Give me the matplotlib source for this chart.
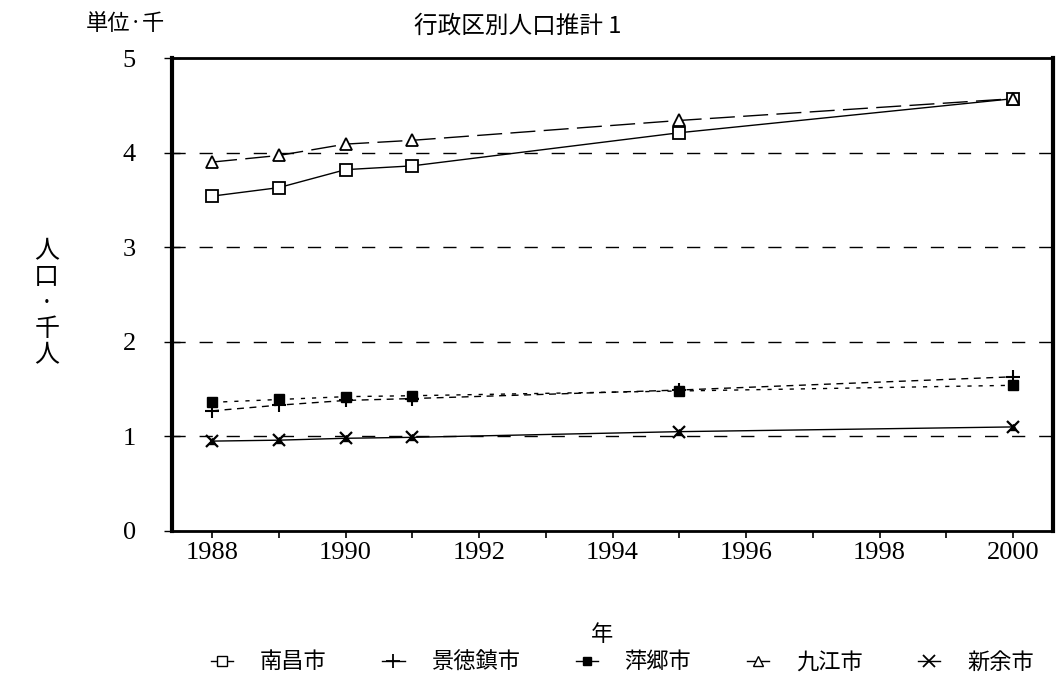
import matplotlib
matplotlib.use("Agg")
import matplotlib.pyplot as plt
from matplotlib.lines import Line2D

JP = ["Noto Sans CJK JP", "DejaVu Sans"]
NUM = "Liberation Serif"

# population estimates by city, thousands
years = [1988, 1989, 1990, 1991, 1995, 2000]
nanchang = [3.54, 3.63, 3.82, 3.86, 4.21, 4.57]
jingdezhen = [1.27, 1.33, 1.38, 1.40, 1.49, 1.63]
pingxiang = [1.36, 1.39, 1.42, 1.43, 1.48, 1.54]
jiujiang = [3.90, 3.97, 4.09, 4.13, 4.34, 4.57]
xinyu = [0.95, 0.96, 0.98, 0.99, 1.05, 1.10]

city_names = ["南昌市", "景徳鎮市", "萍郷市", "九江市", "新余市"]
y_ticks = [0, 1, 2, 3, 4, 5]
x_ticks = [1988, 1990, 1992, 1994, 1996, 1998, 2000]

fig = plt.figure(figsize=(10.64, 6.81), dpi=100)
ax = fig.add_axes([0.1617, 0.2203, 0.828, 0.6945])

# dashed horizontal grid
for yv in y_ticks[1:-1]:
    ax.axhline(yv, color="black", lw=1.0, ls=(0, (9.5, 10)), zorder=1)

ax.plot(years, nanchang, color="black", lw=1.0, marker="s", ms=8,
        mfc="white", mec="black", mew=1.3, zorder=3)
ax.plot(years, jiujiang, color="black", lw=1.0, ls=(0, (18, 6)), marker="^", ms=8,
        mfc="white", mec="black", mew=1.3, zorder=3)
ax.plot(years, jingdezhen, color="black", lw=1.0, ls=(0, (5, 4)), marker="+", ms=10,
        mew=1.5, zorder=3)
ax.plot(years, pingxiang, color="black", lw=1.0, ls=(0, (3, 5)), marker="s", ms=7,
        mfc="black", mec="black", zorder=3)
ax.plot(years, xinyu, color="black", lw=1.0, marker="x", ms=9, mew=1.6, zorder=3)
ax.plot(years, xinyu, ls="none", marker="^", ms=5, mfc="black", mec="black", zorder=3)

ax.set_xlim(1987.4, 2000.6)
ax.set_ylim(0, 5)
ax.set_xticks(x_ticks)
ax.set_xticks(range(1988, 2001), minor=True)
ax.set_yticks(y_ticks)
ax.tick_params(axis="x", which="both", direction="out", length=5, width=1.2, pad=3)
ax.tick_params(axis="y", direction="inout", length=12, width=1.0, pad=20)
for lab in ax.get_xticklabels() + ax.get_yticklabels():
    lab.set_fontfamily(NUM)
    lab.set_fontsize(19)

ax.spines["left"].set_linewidth(3.0)
ax.spines["right"].set_linewidth(3.0)
ax.spines["top"].set_linewidth(2.0)
ax.spines["bottom"].set_linewidth(2.0)

fig.text(0.487, 0.962, "行政区別人口推計 1", ha="center", va="center",
         fontsize=17, family=JP)
fig.text(0.118, 0.965, "単位·千", ha="center", va="center", fontsize=16, family=JP)
fig.text(0.044, 0.555, "人\n口\n·\n千\n人", ha="center", va="center",
         fontsize=18, family=JP, linespacing=1.0)
fig.text(0.566, 0.068, "年", ha="center", va="center", fontsize=16, family=JP)

handles = [
    Line2D([], [], color="black", lw=1.0, marker="s", ms=7, mfc="white", mec="black"),
    Line2D([], [], color="black", lw=1.0, marker="+", ms=10, mew=1.3),
    Line2D([], [], color="black", lw=1.0, marker="s", ms=6, mfc="black"),
    Line2D([], [], color="black", lw=1.0, marker="^", ms=7, mfc="white", mec="black"),
    Line2D([], [], color="black", lw=1.0, marker="x", ms=8, mew=1.3),
]
fig.legend(handles, city_names, loc="center", bbox_to_anchor=(0.585, 0.028), ncol=5,
           frameon=False, handlelength=1.0, handletextpad=1.2, columnspacing=2.5,
           prop={"family": JP, "size": 16})

fig.savefig("out.png", dpi=100)
